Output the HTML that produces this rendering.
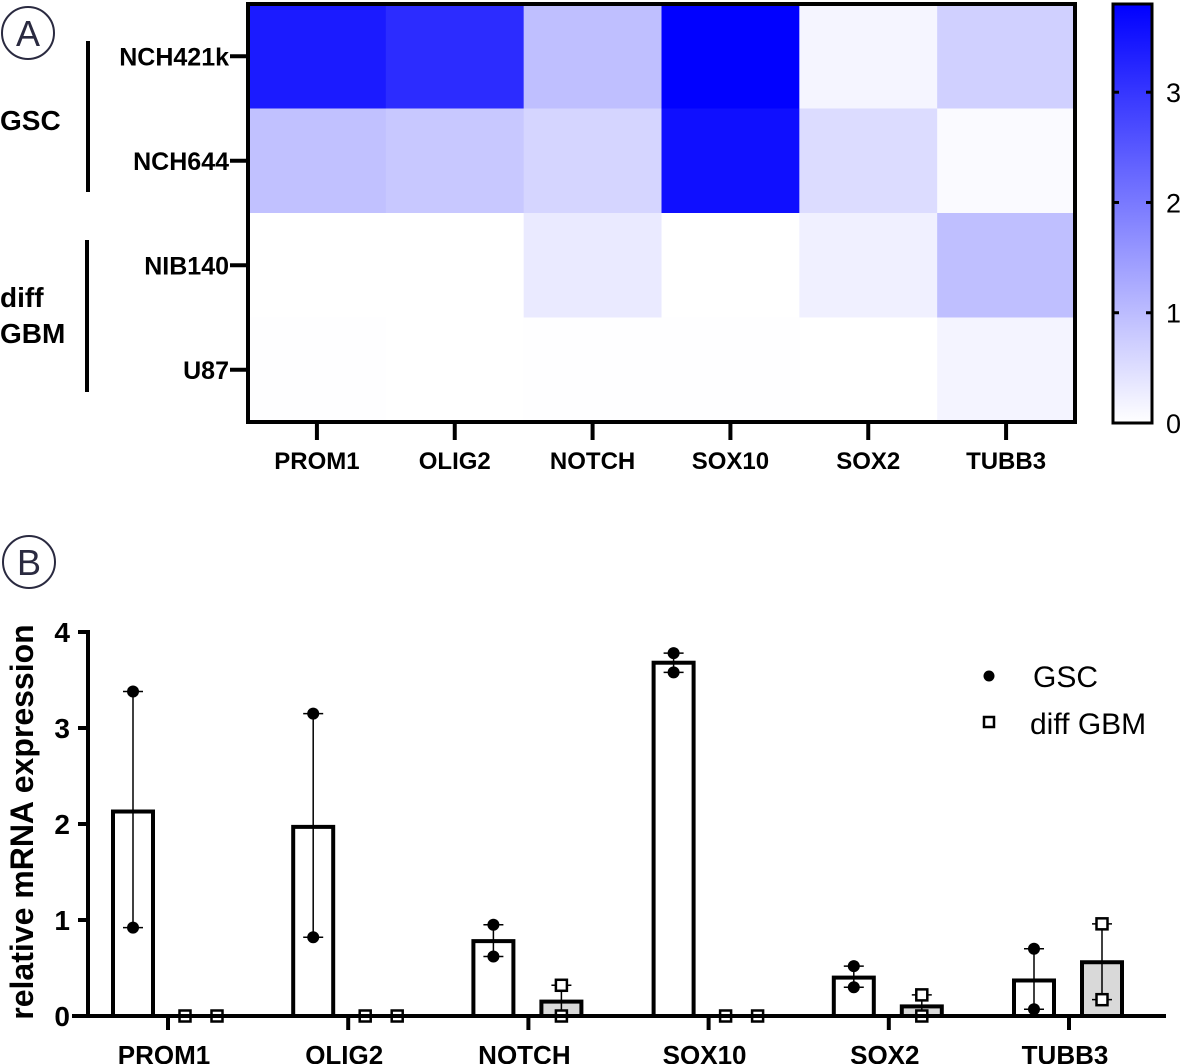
<!DOCTYPE html>
<html><head><meta charset="utf-8"><style>
html,body{margin:0;padding:0;background:#fff;}
svg{display:block;font-family:"Liberation Sans",Arial,sans-serif;}
</style></head><body>
<svg id="fig" width="1182" height="1064" viewBox="0 0 1182 1064" xmlns="http://www.w3.org/2000/svg">
<defs>
<linearGradient id="cb" x1="0" y1="1" x2="0" y2="0">
<stop offset="0" stop-color="#ffffff"/><stop offset="1" stop-color="#0000ff"/>
</linearGradient>
</defs>
<g>
<circle cx="28" cy="33" r="26" fill="none" stroke="#2a2a40" stroke-width="2"/>
<text x="28" y="46" font-size="36" text-anchor="middle" fill="#2a2a40">A</text>
</g>
<g>
<circle cx="29" cy="562" r="26" fill="none" stroke="#2a2a40" stroke-width="2"/>
<text x="29" y="575" font-size="36" text-anchor="middle" fill="#2a2a40">B</text>
</g>
<g id="heat"></g>
<g id="bars"></g>
</svg>
<script>
const genes = ["PROM1","OLIG2","NOTCH","SOX10","SOX2","TUBB3"];
const cellLines = ["NCH421k","NCH644","NIB140","U87"];
const heatValues = [
  [3.40,3.15,0.95,3.78,0.15,0.70],
  [0.92,0.82,0.62,3.58,0.52,0.07],
  [0.00,0.00,0.32,0.00,0.22,0.96],
  [0.02,0.00,0.02,0.01,0.00,0.17]
];
const colorTicks = [0,1,2,3];
const gscMean = [2.13,1.97,0.78,3.68,0.40,0.37];
const gscPts = [[3.38,0.92],[3.15,0.82],[0.95,0.62],[3.78,3.58],[0.52,0.30],[0.70,0.07]];
const diffMean = [0,0,0.15,0,0.10,0.56];
const diffPts = [[0,0],[0,0],[0.32,0.0],[0,0],[0.22,0.0],[0.96,0.17]];
const yTicks = [0,1,2,3,4];

const NS="http://www.w3.org/2000/svg";
function mk(parent,tag,attrs,text){const e=document.createElementNS(NS,tag);for(const k in attrs)e.setAttribute(k,attrs[k]);if(text!==undefined)e.textContent=text;parent.appendChild(e);return e;}

// heatmap
const H=document.getElementById('heat');
const hx0=248,hx1=1075,hy0=4,hy1=422,cmax=3.8;
const cw=(hx1-hx0)/genes.length,ch=(hy1-hy0)/cellLines.length;
const hx=i=>hx0+i*cw, hy=j=>hy0+j*ch;
function col(v){const t=Math.max(0,Math.min(1,v/cmax));const c=Math.round(255*(1-t));return `rgb(${c},${c},255)`;}
heatValues.forEach((row,j)=>row.forEach((v,i)=>{
  const r=mk(H,'rect',{x:hx(i),y:hy(j),width:cw+0.5,height:ch+0.5,fill:col(v)});
  
  
}));
mk(H,'rect',{x:hx0,y:hy0,width:hx1-hx0,height:hy1-hy0,fill:'none',stroke:'#000','stroke-width':4});
genes.forEach((g,i)=>{
  const cx=hx(i)+cw/2;
  mk(H,'line',{x1:cx,y1:hy1,x2:cx,y2:440,stroke:'#000','stroke-width':4});
  const t=mk(H,'text',{x:cx,y:469,'font-size':24,'font-weight':'bold','text-anchor':'middle'},g);
  
  
});
cellLines.forEach((c,j)=>{
  const cy=hy(j)+ch/2;
  mk(H,'line',{x1:230,y1:cy,x2:hx0,y2:cy,stroke:'#000','stroke-width':4});
  const t=mk(H,'text',{x:229,y:cy+9,'font-size':25,'font-weight':'bold','text-anchor':'end'},c);
  
  
});
mk(H,'line',{x1:88,y1:41,x2:88,y2:192,stroke:'#000','stroke-width':4});
mk(H,'line',{x1:87,y1:240,x2:87,y2:392,stroke:'#000','stroke-width':4});
mk(H,'text',{x:0,y:130,'font-size':28,'font-weight':'bold'},'GSC');
mk(H,'text',{x:0,y:307,'font-size':28,'font-weight':'bold'},'diff');
mk(H,'text',{x:0,y:343,'font-size':28,'font-weight':'bold'},'GBM');
// colorbar
const cb=mk(H,'g',{});


const cy0=423,cy1=4,cbx=1113,cbw=39;
const cyv=v=>cy0-(v/cmax)*(cy0-cy1);
mk(cb,'rect',{x:cbx,y:cy1,width:cbw,height:cy0-cy1,fill:'url(#cb)',stroke:'#000','stroke-width':3});
colorTicks.forEach(v=>{
  if(v>0){mk(cb,'line',{x1:cbx,y1:cyv(v),x2:cbx+6,y2:cyv(v),stroke:'#000','stroke-width':3});
  mk(cb,'line',{x1:cbx+cbw-6,y1:cyv(v),x2:cbx+cbw,y2:cyv(v),stroke:'#000','stroke-width':3});}
  mk(cb,'text',{x:1166,y:cyv(v)+10,'font-size':27},String(v));
});

// bar chart
const B=document.getElementById('bars');
const ax=88,y0=1016,y4=632;
const yv=v=>y0-v*(y0-y4)/4;
const tickX=i=>168+i*180.2;
const bw=40;
genes.forEach((g,i)=>{
  const t=tickX(i);
  [[gscMean,gscPts,-35,'gsc'],[diffMean,diffPts,33,'diff']].forEach(([m,p,off,s])=>{
    const c=t+off;
    if(m[i]>0){
      const r=mk(B,'rect',{x:c-bw/2,y:yv(m[i]),width:bw,height:yv(0)-yv(m[i]),fill:s==='gsc'?'#fff':'#d9d9d9',stroke:'#000','stroke-width':4});
      
      
      const hi=Math.max(...p[i]),lo=Math.min(...p[i]);
      mk(B,'line',{x1:c,y1:yv(hi),x2:c,y2:yv(lo),stroke:'#000','stroke-width':1.5});
      p[i].forEach(v=>mk(B,'line',{x1:c-10,y1:yv(v),x2:c+10,y2:yv(v),stroke:'#000','stroke-width':1.5}));
      p[i].forEach(v=>{
        if(s==='gsc'){const d=mk(B,'circle',{cx:c,cy:yv(v),r:6,fill:'#000'});}
        else{const d=mk(B,'rect',{x:c-5.5,y:yv(v)-5.5,width:11,height:11,fill:'#fff',stroke:'#000','stroke-width':2.5});}
      });
    } else {
      p[i].forEach((v,k)=>{
        const px=c+(k===0?-16:16);
        const d=mk(B,'rect',{x:px-5.5,y:yv(v)-5.5,width:11,height:11,fill:'#fff',stroke:'#000','stroke-width':2.5});
        
        
      });
    }
  });
  mk(B,'line',{x1:t,y1:y0,x2:t,y2:y0+14,stroke:'#000','stroke-width':4});
  const tl=mk(B,'text',{x:t-4,y:1064,'font-size':26,'font-weight':'bold','text-anchor':'middle'},g);
  
  
});
mk(B,'line',{x1:ax,y1:y4-2,x2:ax,y2:y0+2,stroke:'#000','stroke-width':4});
mk(B,'line',{x1:ax-16,y1:y0,x2:1166,y2:y0,stroke:'#000','stroke-width':4});
yTicks.forEach(v=>{
  mk(B,'line',{x1:ax-10,y1:yv(v),x2:ax,y2:yv(v),stroke:'#000','stroke-width':4});
  mk(B,'text',{x:70,y:yv(v)+10,'font-size':28,'font-weight':'bold','text-anchor':'end'},String(v));
});
const yt=mk(B,'text',{x:0,y:0,'font-size':32,'font-weight':'bold','text-anchor':'middle',transform:'translate(33,822) rotate(-90)'},'relative mRNA expression');


const lg=mk(B,'g',{});


mk(lg,'circle',{cx:989,cy:676,r:5.5,fill:'#000'});
mk(lg,'text',{x:1033,y:687,'font-size':30},'GSC');
mk(lg,'rect',{x:984,y:717,width:10,height:10,fill:'#fff',stroke:'#000','stroke-width':2.5});
mk(lg,'text',{x:1030,y:734,'font-size':30},'diff GBM');
</script>
</body></html>
